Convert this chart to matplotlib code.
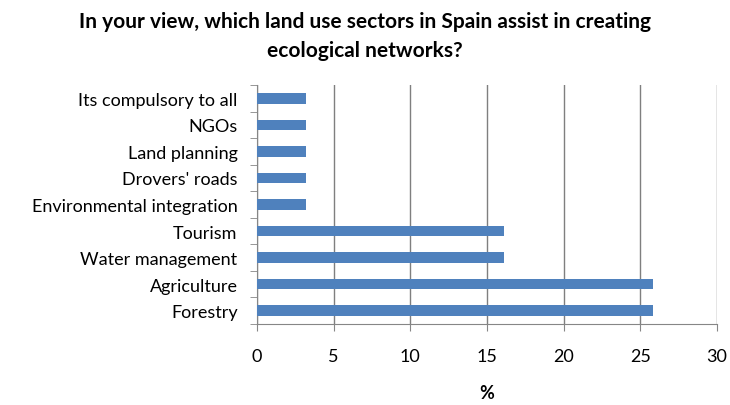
import matplotlib
matplotlib.use("Agg")
import matplotlib.pyplot as plt
from matplotlib.ticker import FixedLocator

categories = ["Forestry", "Agriculture", "Water management", "Tourism",
              "Environmental integration", "Drovers' roads", "Land planning",
              "NGOs", "Its compulsory to all"]
values = [25.8, 25.8, 16.1, 16.1, 3.2, 3.2, 3.2, 3.2, 3.2]
xticks = [0, 5, 10, 15, 20, 25, 30]

plt.rcParams['font.family'] = ['Lato', 'DejaVu Sans']

fig = plt.figure(figsize=(7.3, 4.06), dpi=100)
ax = fig.add_axes([257/730, 1 - 325/406, (717 - 257)/730, (325 - 86)/406])

y = list(range(len(categories)))
ax.barh(y, values, height=0.4, color="#4F81BD", zorder=3)
ax.set_ylim(-0.5, len(categories) - 0.5)
ax.set_xlim(0, 30)
ax.set_xticks(xticks)
ax.set_xticklabels([str(t) for t in xticks], fontsize=13)
ax.set_yticks(y)
ax.set_yticklabels(categories, fontsize=13)
ax.tick_params(axis='y', length=0, pad=14)
ax.yaxis.set_minor_locator(FixedLocator([i - 0.5 for i in range(len(categories) + 1)]))
ax.tick_params(axis='y', which='minor', length=5, color="#868686")
ax.tick_params(axis='x', length=5, color="#868686", pad=12)
ax.grid(axis='x', color="#7f7f7f", linewidth=1, zorder=0)
for s in ['top', 'right']:
    ax.spines[s].set_visible(False)
for s in ['left', 'bottom']:
    ax.spines[s].set_color("#868686")
ax.set_xlabel("%", fontsize=13, fontweight='bold', labelpad=15)
fig.suptitle("In your view, which land use sectors in Spain assist in creating\necological networks?",
             fontsize=15, fontweight='bold', y=0.97, linespacing=1.55)
fig.savefig("out.png", dpi=100)
